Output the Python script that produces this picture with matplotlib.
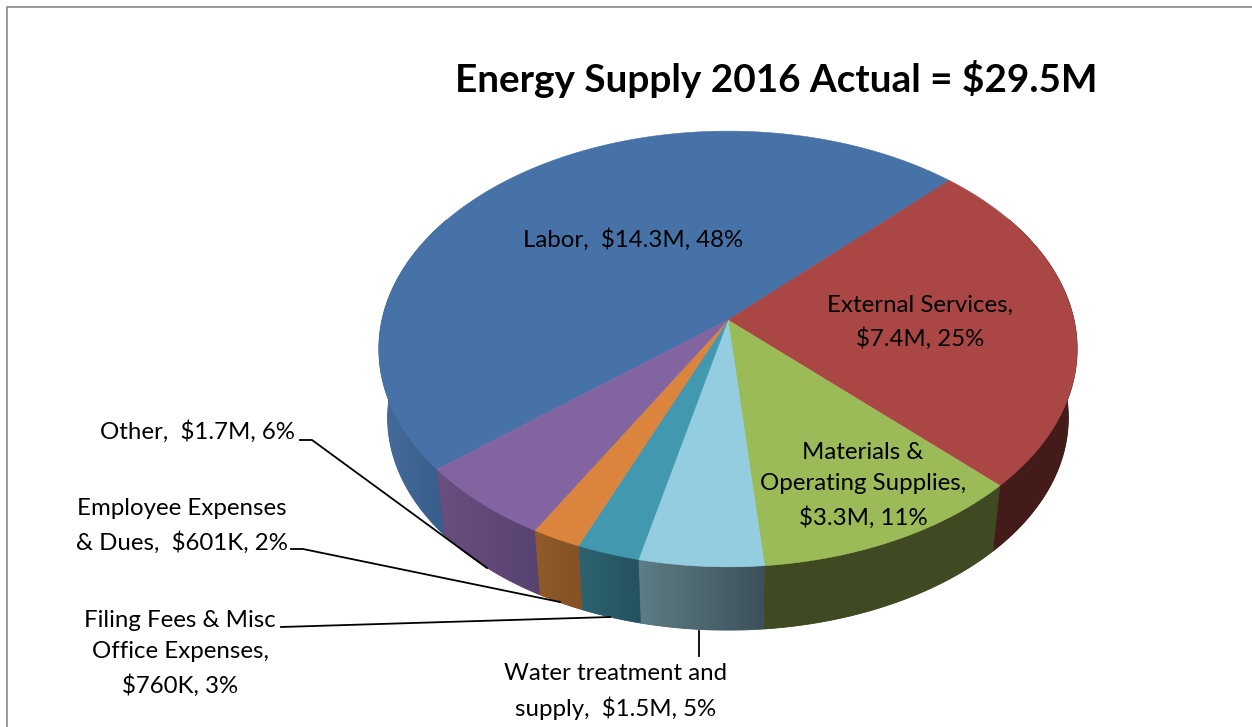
import numpy as np
from matplotlib import pyplot as plt
from matplotlib.colors import to_rgb
from matplotlib.patches import Polygon

# values in $M, clockwise from the Labor slice
categories = ['Labor', 'External Services', 'Materials & Operating Supplies', 'Water treatment and supply',
              'Filing Fees & Misc Office Expenses', 'Employee Expenses & Dues', 'Other']
values = [14.3, 7.4, 3.3, 1.5, 0.76, 0.601, 1.7]
title = 'Energy Supply 2016 Actual = $29.5M'
labels = ['Labor,  $14.3M, 48%',
          'External Services,\n$7.4M, 25%',
          'Materials &\nOperating Supplies,\n$3.3M, 11%',
          'Water treatment and\nsupply,  $1.5M, 5%',
          'Filing Fees & Misc\nOffice Expenses,\n$760K, 3%',
          'Employee Expenses\n& Dues,  $601K, 2%',
          'Other,  $1.7M, 6%']

top_colors = ['#4672A7', '#AA4644', '#9BBB59', '#93CDDF', '#4198AF', '#DB843D', '#8264A1']
wall_left = ['#456C9C', '#431C1A', '#404A22', '#5E7D86', '#2D636F', '#905A29', '#6A4F80']
wall_right = ['#355B87', '#431C1A', '#404A22', '#3C505A', '#245260', '#855126', '#574270']

# where the text goes, in image pixels
label_pos = [(633, 240), (920, 322), (863, 485), (616, 691.5), (180, 653), (182, 526), (197, 432)]
leaders = [[(300, 440), (312, 440), (487, 568)],
           [(291, 549), (303, 549), (560, 602)],
           [(281, 627), (610, 617)],
           [(699, 631), (699, 656)]]

CX, CY = 728, 320
START = 230.3
DEPTH = 69.5
BOTTOM_SCALE = 0.975


def rim(theta, bottom=False):
    """
    Perspective projection of the pie circle
    :param theta: angles in degrees, clockwise from the back of the pie
    :param bottom: True for the lower rim of the wall
    :return: x and y arrays in image pixels
    """
    t = np.radians(theta)
    u, v = np.sin(t), np.cos(t)
    d = 1 + 0.133 * v
    x, y = 346 * u / d, -214 * v / d
    if bottom:
        return CX + x * BOTTOM_SCALE, CY + y * BOTTOM_SCALE + DEPTH
    return CX + x, CY + y


fig = plt.figure(figsize=(12.52, 7.27), dpi=100)
ax = fig.add_axes([0, 0, 1, 1])

shares = np.array(values) / sum(values) * 360
edges = START + np.concatenate([[0], np.cumsum(shares)])

# walls first, the top surface covers whatever is behind. only the front part is ever seen
for i in range(len(values)):
    a0, a1 = edges[i], edges[i + 1]
    if a0 > 300:
        a0, a1 = a0 - 360, a1 - 360
    a0, a1 = max(a0, 60), min(a1, 300)
    if a1 <= a0:
        continue
    steps = np.linspace(a0, a1, 80)
    xt, yt = rim(steps)
    xb, yb = rim(steps, bottom=True)
    xs, ys = np.r_[xt, xb[::-1]], np.r_[yt, yb[::-1]]
    c0, c1 = np.array(to_rgb(wall_left[i])), np.array(to_rgb(wall_right[i]))
    ax.fill(xs, ys, color=(c0 + c1) / 2, lw=0.6, zorder=2)
    grad = np.linspace(c0, c1, 64)[None, :, :]
    im = ax.imshow(grad, extent=(xs.min(), xs.max(), ys.max(), ys.min()), aspect='auto',
                   interpolation='bilinear', zorder=2.1)
    im.set_clip_path(Polygon(np.c_[xs, ys], closed=True, transform=ax.transData))

for i in range(len(values)):
    xt, yt = rim(np.linspace(edges[i], edges[i + 1], 200))
    ax.fill(np.r_[CX, xt], np.r_[CY, yt], color=top_colors[i], lw=0.4, zorder=3)

for pts in leaders:
    ax.plot([p[0] for p in pts], [p[1] for p in pts], color='black', lw=1.3, zorder=4,
            solid_joinstyle='miter')

for text, (x, y) in zip(labels, label_pos):
    ax.text(x, y, text, ha='center', va='center', fontsize=17.3, family='Lato', linespacing=1.62,
            color='black', zorder=5)
ax.text(776, 79, title, ha='center', va='center', fontsize=27.9, family='Lato', weight='bold', zorder=5)

# chart frame, only top and left are in the crop
ax.plot([7, 7, 1252], [727, 6.5, 6.5], color='#888888', lw=1.2, zorder=1, solid_joinstyle='miter')

ax.set_xlim(0, 1252)
ax.set_ylim(727, 0)
ax.axis('off')

fig.savefig('out.png', dpi=100)
